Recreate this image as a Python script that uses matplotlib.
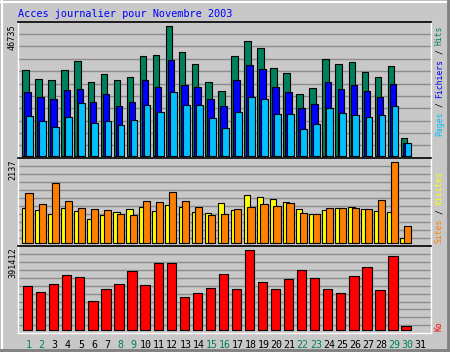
import matplotlib
matplotlib.use("Agg")
import matplotlib.pyplot as plt
from matplotlib.patches import Rectangle
from matplotlib.lines import Line2D
import numpy as np

# ---------------- data ----------------
days = list(range(1, 32))
day_labels = [str(d) for d in days]
weekend_days = [1, 2, 8, 9, 15, 16, 22, 23, 29, 30]

hits = [30680, 27440, 27080, 30680, 33910, 26360, 29240, 27080, 28280, 35710,
        36070, 46735, 37150, 32830, 26360, 23130, 35710, 41100, 38710, 31400,
        29600, 22050, 24210, 34630, 32830, 33550, 29960, 28160, 32120, 6230, 0]
files = [22770, 20970, 20250, 23490, 23850, 19170, 22050, 17730, 19170, 27080,
         24570, 34270, 25280, 24570, 20250, 17730, 27080, 32470, 31040, 24570,
         22770, 17020, 18450, 26360, 23850, 25280, 23130, 20970, 25640, 4430, 0]
pages = [14140, 12580, 10190, 13780, 18810, 11620, 12340, 10900, 12700, 18090,
         15580, 22770, 18090, 18090, 13420, 9830, 15580, 20970, 20250, 14860,
         14860, 9470, 11260, 17020, 15220, 14500, 13780, 14500, 17850, 4430, 0]
visits = [923, 871, 765, 923, 844, 633, 739, 818, 897, 950,
          844, 1003, 950, 818, 791, 1055, 871, 1266, 1214, 1161,
          1082, 897, 765, 871, 923, 950, 897, 844, 818, 132, 0]
sites = [1319, 1029, 1583, 1108, 923, 897, 871, 765, 739, 1108,
         1082, 1345, 1108, 950, 739, 765, 897, 950, 1029, 976,
         1055, 791, 765, 923, 923, 923, 897, 1134, 2137, 448, 0]
kbytes = [215280, 185920, 225060, 270730, 259310, 141890, 200600, 225060, 288670, 220170,
          327810, 327810, 163090, 181030, 205490, 273990, 200600, 391412, 234850, 200600,
          249530, 293560, 254420, 200600, 181030, 264210, 308240, 197340, 362060, 21200, 0]

title = "Acces journalier pour Novembre 2003"

# ---------------- style ----------------
BG = "#C8C8C8"
GRID = "#8C8C8C"
C_HITS = "#00805C"
C_FILES = "#0000FF"
C_PAGES = "#00C0FF"
C_VISITS = "#FFFF00"
C_SITES = "#FF8000"
C_KB = "#FF0000"
MONO = "DejaVu Sans Mono"

W, H = 450, 352
fig = plt.figure(figsize=(W / 100, H / 100), dpi=100)
fig.patch.set_facecolor(BG)

over = fig.add_axes([0, 0, 1, 1])
over.set_xlim(0, W)
over.set_ylim(H, 0)
over.axis("off")

# outer 3D frame
over.add_patch(Rectangle((0.5, 0.5), W - 1, H - 1, fill=False, ec="black", lw=0.8))
over.add_line(Line2D([1.5, 1.5], [1, H - 2], color="white", lw=1.5))
over.add_line(Line2D([1, W - 2], [1.5, 1.5], color="white", lw=1.5))
over.add_line(Line2D([W - 2.5, W - 2.5], [1, H - 1], color="#808080", lw=2.0))
over.add_line(Line2D([1, W - 1], [H - 2.5, H - 2.5], color="#808080", lw=2.0))

X0, X1 = 17.5, 431.0
STEP = 13.05
DAY1 = 27.65
xlo = 1 - (DAY1 - X0) / STEP
xhi = 1 + (X1 - DAY1) / STEP


def panel(top_px, bot_px, base_px, peak_px, vmax, last=False):
    ax = fig.add_axes([X0 / W, 1 - bot_px / H, (X1 - X0) / W, (bot_px - top_px) / H])
    ax.set_facecolor(BG)
    s = vmax / (base_px - peak_px)
    y0 = -(bot_px - base_px) * s
    y1 = (base_px - top_px) * s
    ax.set_xlim(xlo, xhi)
    ax.set_ylim(y0, y1)
    ax.set_yticks(np.linspace(y0, y1, 12)[1:-1])
    ax.yaxis.grid(True, color=GRID, lw=1.0)
    ax.set_axisbelow(True)
    ax.tick_params(axis="y", length=0, labelleft=False)
    ax.spines["top"].set_color("black")
    ax.spines["top"].set_linewidth(1.2)
    ax.spines["left"].set_color("white")
    ax.spines["right"].set_color("white")
    ax.spines["left"].set_linewidth(1.0)
    ax.spines["right"].set_linewidth(1.0)
    if last:
        ax.spines["bottom"].set_color("white")
        ax.spines["bottom"].set_linewidth(1.0)
    else:
        ax.spines["bottom"].set_visible(False)
        ax.tick_params(axis="x", length=0, labelbottom=False)
    return ax


def bars(ax, vals, off, width, color):
    xs = [d + off for d, v in zip(days, vals) if v > 0]
    hs = [v for v in vals if v > 0]
    ax.bar(xs, hs, width=width, color=color, edgecolor="black", linewidth=0.8, zorder=3)


ax1 = panel(21.7, 157.7, 155.7, 25.7, max(hits))
bars(ax1, hits, -0.16, 0.5, C_HITS)
bars(ax1, files, 0.0, 0.5, C_FILES)
bars(ax1, pages, 0.15, 0.52, C_PAGES)

ax2 = panel(157.7, 246.0, 243.3, 162.3, max(sites))
bars(ax2, visits, -0.19, 0.5, C_VISITS)
bars(ax2, sites, 0.11, 0.55, C_SITES)

ax3 = panel(246.0, 333.3, 330.3, 250.3, max(kbytes), last=True)
bars(ax3, kbytes, 0.0, 0.71, C_KB)
ax3.set_xticks([d + 0.08 for d in days])
ax3.set_xticklabels(day_labels, family=MONO, fontsize=7.2)
ax3.tick_params(axis="x", length=0, pad=4.6)
for d, lab in zip(days, ax3.get_xticklabels()):
    lab.set_color(C_HITS if d in weekend_days else "black")

# title
over.text(18, 16.6, title, family=MONO, fontsize=7.4, color="#0000FF",
          ha="left", va="baseline")

# left max labels
for y, v in [(24.5, max(hits)), (159.5, max(sites)), (247.0, max(kbytes))]:
    over.text(12.5, y, str(v), family=MONO, fontsize=6.1, color="black",
              rotation=90, ha="center", va="top")

# right legends (rotated, multi-coloured)
ADV = 4.8


def legend(x, y_start, pieces):
    for idx, txt, col in pieces:
        over.text(x, y_start - idx * ADV, txt, family=MONO, fontsize=5.8, color=col,
                  rotation=90, ha="center", va="bottom")


legend(439.5, 136.0, [(0, "Pages", C_PAGES), (6, "/", "black"), (8, "Fichiers", C_FILES),
                      (17, "/", "black"), (19, "Hits", C_HITS)])
legend(439.5, 243.0, [(0, "Sites", C_SITES), (6, "/", "black"), (8, "Visites", C_VISITS)])
legend(439.5, 331.0, [(0, "Ko", C_KB)])

fig.savefig("out.png", dpi=100, facecolor=BG)
